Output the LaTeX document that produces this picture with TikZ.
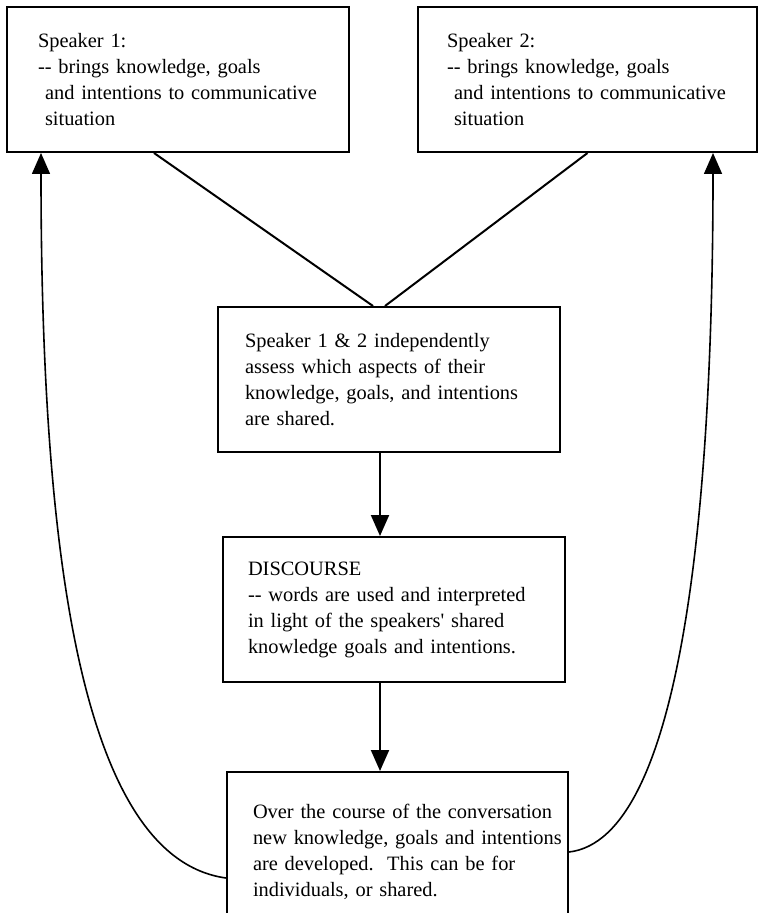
\documentclass[tikz,border=0pt]{standalone}
\usepackage{fontspec}
\setmainfont{Liberation Serif}[Ligatures=TeXOff]
\usetikzlibrary{arrows.meta}

\begin{document}
\begin{tikzpicture}[x=0.5pt, y=-0.5pt]
\tikzstyle{box}=[draw, line width=1pt, rectangle, inner xsep=0pt, inner ysep=0pt, align=left, font=\fontsize{10.2}{13}\selectfont]
\tikzstyle{link}=[line width=1pt]
\tikzstyle{back}=[line width=0.8pt, -{Triangle[length=10.5pt, width=9pt]}]
\clip (0,0) rectangle (760,913);
\node[box, text width=171pt, minimum height=72.5pt] (1) at (178,79.5) {\leftskip=15.5pt Speaker 1:\\-{}- brings knowledge, goals\\\hspace*{3.5pt}and intentions to communicative\\\hspace*{3.5pt}situation\par};
\node[box, text width=169.5pt, minimum height=72.5pt] (2) at (587.5,79.5) {\leftskip=14.5pt Speaker 2:\\-{}- brings knowledge, goals\\\hspace*{3.5pt}and intentions to communicative\\\hspace*{3.5pt}situation\par};
\node[box, text width=171pt, minimum height=72.5pt] (3) at (389,379.5) {\leftskip=13.5pt Speaker 1 \& 2 independently\\assess which aspects of their\\knowledge, goals, and intentions\\are shared.\par};
\node[box, text width=171pt, minimum height=72.5pt] (4) at (394,609.5) {\leftskip=12.5pt DISCOURSE\\-{}- words are used and interpreted\\in light of the speakers' shared\\knowledge goals and intentions.\par};
\node[box, text width=170.5pt, minimum height=80pt] (5) at (397.5,852) {\leftskip=13pt Over the course of the conversation\\new knowledge, goals and intentions\\are developed.\ \ This can be for\\individuals, or shared.\par};
\draw[link] ([xshift=74pt]1.south west) -- ([xshift=-8pt]3.north);
\draw[link] (2.south) -- ([xshift=-2pt]3.north);
\draw[link, -{Triangle[length=10.5pt, width=9pt]}] ([xshift=-4.5pt]3.south) -- ([xshift=-4.5pt]3.south |- 4.north);
\draw[link, -{Triangle[length=10.5pt, width=9pt]}] ([xshift=-7pt]4.south) -- ([xshift=-7pt]4.south |- 5.north);
\draw[back] ([yshift=-13pt]5.west) .. controls +(-145,-20) and +(0,400) .. ([xshift=17.5pt]1.south west);
\draw[back] (5.east) .. controls +(112,-13) and +(0,360) .. ([xshift=-22.5pt]2.south east);
\end{tikzpicture}
\end{document}
